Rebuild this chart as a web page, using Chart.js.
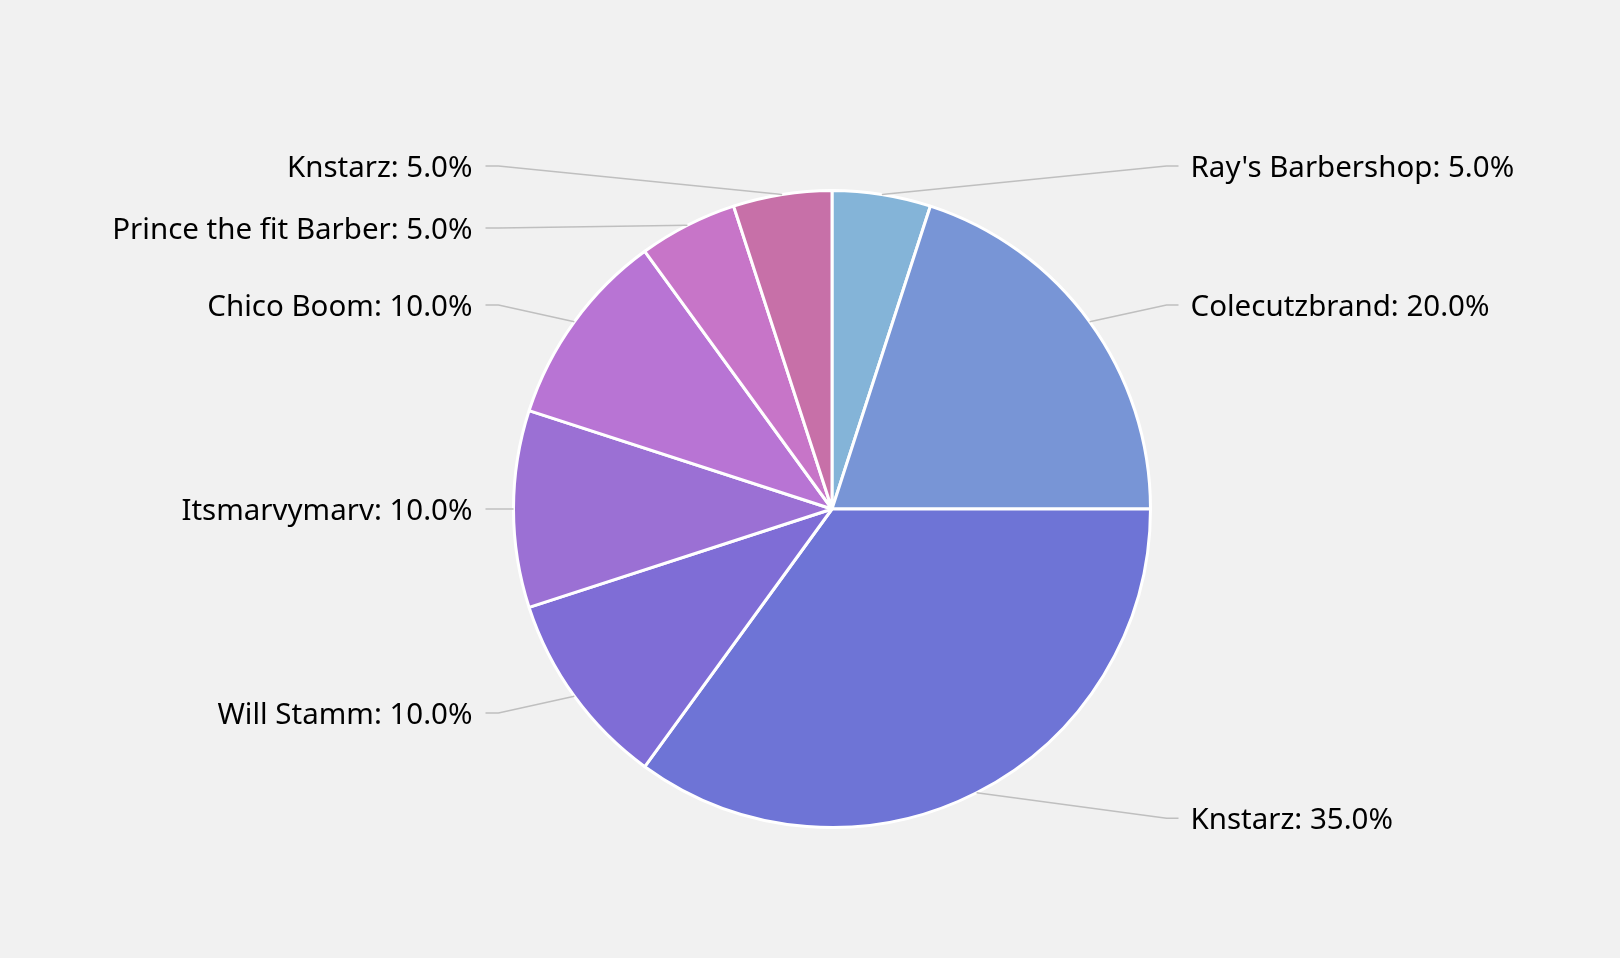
<!DOCTYPE html>
<html>
<head>
<meta charset="utf-8">
<script src="https://cdn.jsdelivr.net/npm/chart.js@4.4.1/dist/chart.umd.min.js"></script>
<style>
  html, body { margin: 0; padding: 0; background: #f1f1f1; }
  #wrap { width: 1620px; height: 958px; position: relative; }
</style>
</head>
<body>
<div id="wrap"><canvas id="c" width="1620" height="958"></canvas></div>
<script>
const categories = ["Ray's Barbershop", "Colecutzbrand", "Knstarz", "Will Stamm", "Itsmarvymarv", "Chico Boom", "Prince the fit Barber", "Knstarz"];
const values = [5, 20, 35, 10, 10, 10, 5, 5];
const sliceColors = ["#84b4d8", "#7895d6", "#6e74d6", "#7f6dd6", "#9b70d4", "#b874d4", "#c775c8", "#c770a8"];

const FONT = "29.5px 'Noto Sans', 'Open Sans', sans-serif";

const leaderLabels = {
  id: 'leaderLabels',
  afterDatasetsDraw(chart) {
    const ctx = chart.ctx;
    const meta = chart.getDatasetMeta(0);
    const data = chart.data.datasets[0].data;
    const total = data.reduce((a, b) => a + b, 0);
    const items = [];
    meta.data.forEach((arc, i) => {
      const p = arc.getProps(['x', 'y', 'startAngle', 'endAngle', 'outerRadius'], true);
      const mid = (p.startAngle + p.endAngle) / 2;
      const R = p.outerRadius;
      const ax = p.x + R * Math.cos(mid);
      const ay = p.y + R * Math.sin(mid);
      const right = Math.cos(mid) > 0.001;
      const ly = p.y + R * 1.09 * Math.sin(mid);
      const text = chart.data.labels[i] + ': ' + (data[i] / total * 100).toFixed(1) + '%';
      items.push({ ax, ay, ly, right, text, cx: p.x, R });
    });
    const minGap = 62;
    [true, false].forEach(side => {
      const group = items.filter(it => it.right === side).sort((a, b) => a.ly - b.ly);
      for (let k = 1; k < group.length; k++) {
        if (group[k].ly - group[k - 1].ly < minGap) group[k].ly = group[k - 1].ly + minGap;
      }
    });
    ctx.save();
    ctx.font = FONT;
    ctx.textBaseline = 'middle';
    ctx.fillStyle = '#000000';
    items.forEach(it => {
      const elbowX = it.right ? it.cx + it.R + 16 : it.cx - it.R - 15;
      const endX = it.right ? elbowX + 12 : elbowX - 13;
      ctx.strokeStyle = '#bfbfbf';
      ctx.lineWidth = 1.5;
      ctx.beginPath();
      ctx.moveTo(it.ax, it.ay);
      ctx.lineTo(elbowX, it.ly);
      ctx.lineTo(endX, it.ly);
      ctx.stroke();
      ctx.textAlign = it.right ? 'left' : 'right';
      const tx = it.right ? endX + 12 : endX - 13;
      ctx.fillText(it.text, tx, it.ly + 2.5);
    });
    ctx.restore();
  }
};

new Chart(document.getElementById('c'), {
  type: 'pie',
  data: {
    labels: categories,
    datasets: [{
      data: values,
      backgroundColor: sliceColors,
      borderColor: '#ffffff',
      borderWidth: 3
    }]
  },
  options: {
    responsive: false,
    animation: false,
    layout: { padding: { left: 512, right: 468, top: 189, bottom: 129 } },
    plugins: {
      legend: { display: false },
      tooltip: { enabled: false }
    }
  },
  plugins: [leaderLabels]
});
</script>
</body>
</html>
